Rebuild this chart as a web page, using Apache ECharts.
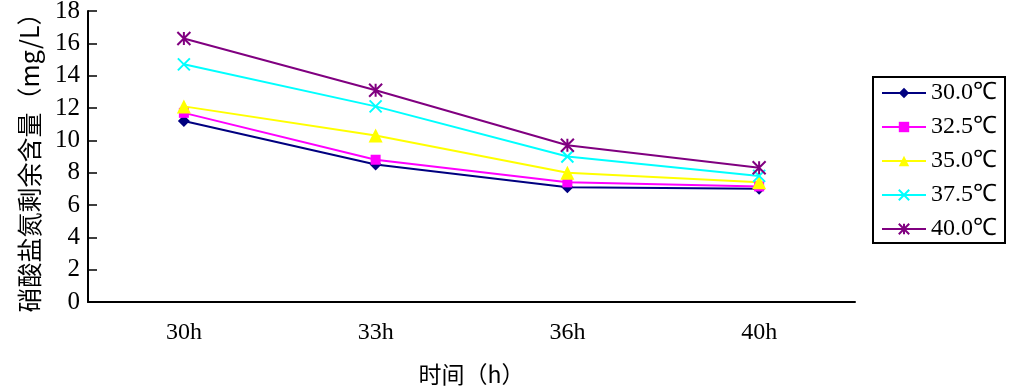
<!DOCTYPE html>
<html>
<head>
<meta charset="utf-8">
<script src="https://cdn.jsdelivr.net/npm/echarts@6/dist/echarts.min.js"></script>
<style>
  html, body { margin: 0; padding: 0; background: #fff; }
  #chart { width: 1018px; height: 390px; }
</style>
</head>
<body>
<div id="chart"></div>
<script>
// 数据
var categories = ['30h', '33h', '36h', '40h'];
var seriesNames = ['30.0℃', '32.5℃', '35.0℃', '37.5℃', '40.0℃'];
var t300 = [11.2, 8.5, 7.1, 7.0];
var t325 = [11.7, 8.8, 7.4, 7.15];
var t350 = [12.1, 10.3, 8.0, 7.4];
var t375 = [14.7, 12.1, 9.0, 7.8];
var t400 = [16.3, 13.1, 9.7, 8.3];
var yTicks = { min: 0, max: 18, interval: 2 };

var colors = ['#000080', '#ff00ff', '#ffff00', '#00ffff', '#800080'];
var symbols = [
  'diamond',
  'rect',
  'triangle',
  'path://M0,0L10,10M10,0L0,10',
  'path://M0,0L10,10M10,0L0,10M5,0L5,10'
];
var sizes = [12, 10, 14, 12, 13];
var allData = [t300, t325, t350, t375, t400];

var serif = 'Liberation Serif';
var cjk = 'Noto Sans CJK SC';
var chart = echarts.init(document.getElementById('chart'));

var series = allData.map(function (d, i) {
  var stroked = i >= 3;
  return {
    name: seriesNames[i],
    type: 'line',
    data: d,
    symbol: symbols[i],
    symbolSize: sizes[i],
    showAllSymbol: true,
    lineStyle: { color: colors[i], width: 2 },
    itemStyle: {
      color: colors[i],
      borderColor: colors[i],
      borderWidth: stroked ? 2 : 0
    },
    emphasis: { disabled: true }
  };
});

chart.setOption({
  animation: false,
  grid: { left: 88, right: 163, top: 11, bottom: 88, containLabel: false, outerBoundsMode: 'none' },
  legend: {
    orient: 'vertical',
    right: 13,
    top: 77,
    padding: [4, 8, 2, 8],
    itemGap: 10,
    itemWidth: 44,
    itemHeight: 13,
    borderColor: '#000',
    borderWidth: 2,
    textStyle: { fontFamily: serif, fontSize: 24, lineHeight: 24, color: '#000' },
    data: seriesNames
  },
  xAxis: {
    type: 'category',
    data: categories,
    boundaryGap: true,
    name: '时间（h）',
    nameLocation: 'middle',
    nameGap: 61,
    nameTextStyle: { fontFamily: cjk, fontSize: 23, color: '#000' },
    axisLine: { lineStyle: { color: '#000', width: 2 } },
    axisTick: { inside: true, length: 9, lineStyle: { color: '#000', width: 1.5 } },
    axisLabel: { margin: 19, fontFamily: serif, fontSize: 24, color: '#000' }
  },
  yAxis: {
    type: 'value',
    min: yTicks.min,
    max: yTicks.max,
    interval: yTicks.interval,
    name: '硝酸盐氮剩余含量（mg/L）',
    nameLocation: 'middle',
    nameGap: 46,
    nameTextStyle: { fontFamily: cjk, fontSize: 25, color: '#000' },
    axisLine: { show: true, lineStyle: { color: '#000', width: 2 } },
    axisTick: { show: true, inside: true, length: 9, lineStyle: { color: '#000', width: 1.5 } },
    axisLabel: { margin: 8, fontFamily: serif, fontSize: 25, color: '#000' },
    splitLine: { show: false }
  },
  series: series
});
</script>
</body>
</html>
